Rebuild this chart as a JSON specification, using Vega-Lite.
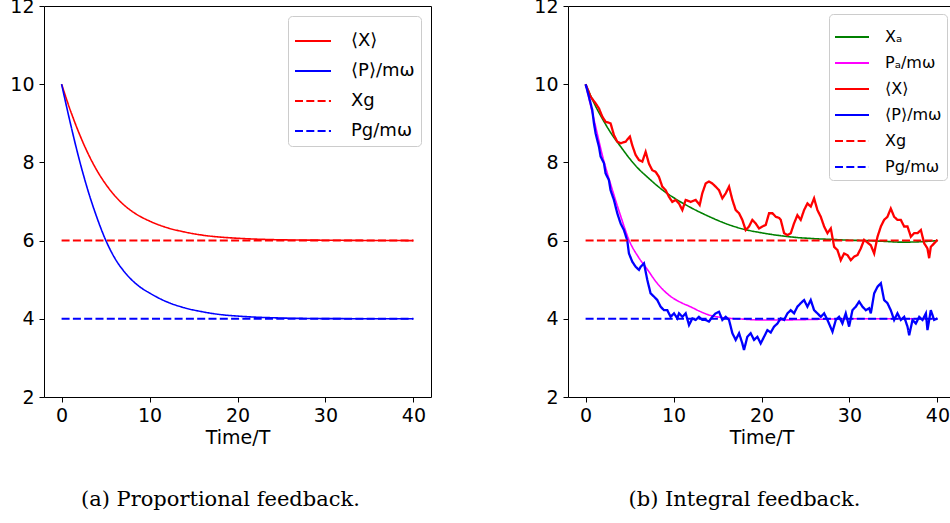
{
  "$schema": "https://vega.github.io/schema/vega-lite/v6.json",
  "background": "white",
  "padding": {"left": 9, "top": -4, "right": -4, "bottom": 0},
  "spacing": 137,
  "bounds": "flush",
  "config": {
    "view": {"stroke": "#000", "strokeWidth": 1},
    "axis": {"grid": false, "domain": false, "tickColor": "#000", "tickSize": 5, "tickWidth": 1, "labelFont": "DejaVu Sans", "labelFontSize": 19, "labelColor": "#000", "titleFont": "DejaVu Sans", "titleFontSize": 19, "titleFontWeight": "normal", "titleColor": "#000"},
    "axisY": {"labelPadding": 5},
    "axisX": {"labelPadding": 4, "titlePadding": 3},
    "legend": {"title": null, "orient": "top-right", "symbolType": "stroke", "labelFont": "DejaVu Sans", "labelColor": "#000", "strokeColor": "#cccccc", "fillColor": "white", "cornerRadius": 4},
    "title": {"font": "DejaVu Serif", "fontSize": 21, "fontWeight": "normal", "color": "#000", "orient": "bottom", "anchor": "middle", "frame": "bounds", "offset": 42}
  },
  "datasets": {
    "a": [
      {"s": "⟨X⟩", "t": 0, "v": 10}, {"s": "⟨X⟩", "t": 1, "v": 9.33}, {"s": "⟨X⟩", "t": 2, "v": 8.74}, {"s": "⟨X⟩", "t": 3, "v": 8.23}, {"s": "⟨X⟩", "t": 4, "v": 7.8}, {"s": "⟨X⟩", "t": 5, "v": 7.45}, {"s": "⟨X⟩", "t": 6, "v": 7.16}, {"s": "⟨X⟩", "t": 7, "v": 6.93}, {"s": "⟨X⟩", "t": 8, "v": 6.75}, {"s": "⟨X⟩", "t": 9, "v": 6.61}, {"s": "⟨X⟩", "t": 10, "v": 6.5}, {"s": "⟨X⟩", "t": 12, "v": 6.33}, {"s": "⟨X⟩", "t": 14, "v": 6.22}, {"s": "⟨X⟩", "t": 16, "v": 6.14}, {"s": "⟨X⟩", "t": 18, "v": 6.09}, {"s": "⟨X⟩", "t": 20, "v": 6.06}, {"s": "⟨X⟩", "t": 25, "v": 6.02}, {"s": "⟨X⟩", "t": 30, "v": 6.01}, {"s": "⟨X⟩", "t": 40, "v": 6.0},
      {"s": "⟨P⟩/mω", "t": 0, "v": 10}, {"s": "⟨P⟩/mω", "t": 1, "v": 9.0}, {"s": "⟨P⟩/mω", "t": 2, "v": 8.08}, {"s": "⟨P⟩/mω", "t": 3, "v": 7.28}, {"s": "⟨P⟩/mω", "t": 4, "v": 6.6}, {"s": "⟨P⟩/mω", "t": 5, "v": 6.02}, {"s": "⟨P⟩/mω", "t": 6, "v": 5.57}, {"s": "⟨P⟩/mω", "t": 7, "v": 5.24}, {"s": "⟨P⟩/mω", "t": 8, "v": 4.99}, {"s": "⟨P⟩/mω", "t": 9, "v": 4.8}, {"s": "⟨P⟩/mω", "t": 10, "v": 4.66}, {"s": "⟨P⟩/mω", "t": 12, "v": 4.43}, {"s": "⟨P⟩/mω", "t": 14, "v": 4.28}, {"s": "⟨P⟩/mω", "t": 16, "v": 4.18}, {"s": "⟨P⟩/mω", "t": 18, "v": 4.11}, {"s": "⟨P⟩/mω", "t": 20, "v": 4.07}, {"s": "⟨P⟩/mω", "t": 25, "v": 4.02}, {"s": "⟨P⟩/mω", "t": 30, "v": 4.005}, {"s": "⟨P⟩/mω", "t": 40, "v": 4.0},
      {"s": "Xg", "t": 0, "v": 6}, {"s": "Xg", "t": 40, "v": 6},
      {"s": "Pg/mω", "t": 0, "v": 4}, {"s": "Pg/mω", "t": 40, "v": 4}
    ],
    "b": [
      {"s": "Xₐ", "t": 0, "v": 10}, {"s": "Xₐ", "t": 1, "v": 9.5}, {"s": "Xₐ", "t": 2, "v": 9.08}, {"s": "Xₐ", "t": 3, "v": 8.71}, {"s": "Xₐ", "t": 4, "v": 8.4}, {"s": "Xₐ", "t": 5, "v": 8.1}, {"s": "Xₐ", "t": 6, "v": 7.84}, {"s": "Xₐ", "t": 7, "v": 7.63}, {"s": "Xₐ", "t": 8, "v": 7.43}, {"s": "Xₐ", "t": 9, "v": 7.25}, {"s": "Xₐ", "t": 10, "v": 7.1}, {"s": "Xₐ", "t": 12, "v": 6.84}, {"s": "Xₐ", "t": 14, "v": 6.62}, {"s": "Xₐ", "t": 16, "v": 6.43}, {"s": "Xₐ", "t": 18, "v": 6.29}, {"s": "Xₐ", "t": 20, "v": 6.2}, {"s": "Xₐ", "t": 22, "v": 6.13}, {"s": "Xₐ", "t": 24, "v": 6.08}, {"s": "Xₐ", "t": 26, "v": 6.05}, {"s": "Xₐ", "t": 28, "v": 6.03}, {"s": "Xₐ", "t": 30, "v": 6.01}, {"s": "Xₐ", "t": 32, "v": 6.0}, {"s": "Xₐ", "t": 34, "v": 5.98}, {"s": "Xₐ", "t": 36, "v": 5.96}, {"s": "Xₐ", "t": 38, "v": 5.97}, {"s": "Xₐ", "t": 40, "v": 6.0},
      {"s": "Pₐ/mω", "t": 0, "v": 10}, {"s": "Pₐ/mω", "t": 1, "v": 9.05}, {"s": "Pₐ/mω", "t": 2, "v": 8.1}, {"s": "Pₐ/mω", "t": 3, "v": 7.33}, {"s": "Pₐ/mω", "t": 4, "v": 6.62}, {"s": "Pₐ/mω", "t": 5, "v": 5.98}, {"s": "Pₐ/mω", "t": 6, "v": 5.58}, {"s": "Pₐ/mω", "t": 7, "v": 5.27}, {"s": "Pₐ/mω", "t": 8, "v": 4.95}, {"s": "Pₐ/mω", "t": 9, "v": 4.7}, {"s": "Pₐ/mω", "t": 10, "v": 4.52}, {"s": "Pₐ/mω", "t": 11, "v": 4.4}, {"s": "Pₐ/mω", "t": 12, "v": 4.3}, {"s": "Pₐ/mω", "t": 13, "v": 4.19}, {"s": "Pₐ/mω", "t": 14, "v": 4.1}, {"s": "Pₐ/mω", "t": 15, "v": 4.05}, {"s": "Pₐ/mω", "t": 16, "v": 4.02}, {"s": "Pₐ/mω", "t": 18, "v": 3.99}, {"s": "Pₐ/mω", "t": 20, "v": 3.97}, {"s": "Pₐ/mω", "t": 22, "v": 3.97}, {"s": "Pₐ/mω", "t": 25, "v": 3.98}, {"s": "Pₐ/mω", "t": 30, "v": 4.0}, {"s": "Pₐ/mω", "t": 40, "v": 4.0},
      {"s": "⟨X⟩", "t": 0, "v": 10}, {"s": "⟨X⟩", "t": 0.57, "v": 9.68}, {"s": "⟨X⟩", "t": 1.14, "v": 9.51}, {"s": "⟨X⟩", "t": 1.52, "v": 9.38}, {"s": "⟨X⟩", "t": 1.9, "v": 9.17}, {"s": "⟨X⟩", "t": 2.27, "v": 9.04}, {"s": "⟨X⟩", "t": 2.84, "v": 9.0}, {"s": "⟨X⟩", "t": 3.22, "v": 8.7}, {"s": "⟨X⟩", "t": 3.6, "v": 8.53}, {"s": "⟨X⟩", "t": 3.98, "v": 8.49}, {"s": "⟨X⟩", "t": 4.55, "v": 8.53}, {"s": "⟨X⟩", "t": 5.04, "v": 8.66}, {"s": "⟨X⟩", "t": 5.3, "v": 8.44}, {"s": "⟨X⟩", "t": 5.69, "v": 8.19}, {"s": "⟨X⟩", "t": 6.07, "v": 8.06}, {"s": "⟨X⟩", "t": 6.45, "v": 8.02}, {"s": "⟨X⟩", "t": 6.83, "v": 8.27}, {"s": "⟨X⟩", "t": 7.2, "v": 7.97}, {"s": "⟨X⟩", "t": 7.58, "v": 7.8}, {"s": "⟨X⟩", "t": 7.96, "v": 7.76}, {"s": "⟨X⟩", "t": 8.34, "v": 7.63}, {"s": "⟨X⟩", "t": 8.72, "v": 7.38}, {"s": "⟨X⟩", "t": 9.1, "v": 7.29}, {"s": "⟨X⟩", "t": 9.48, "v": 7.12}, {"s": "⟨X⟩", "t": 9.86, "v": 6.99}, {"s": "⟨X⟩", "t": 10.24, "v": 7.04}, {"s": "⟨X⟩", "t": 10.62, "v": 6.95}, {"s": "⟨X⟩", "t": 11.0, "v": 6.78}, {"s": "⟨X⟩", "t": 11.38, "v": 7.04}, {"s": "⟨X⟩", "t": 11.95, "v": 6.99}, {"s": "⟨X⟩", "t": 12.52, "v": 7.04}, {"s": "⟨X⟩", "t": 12.97, "v": 6.91}, {"s": "⟨X⟩", "t": 13.27, "v": 7.21}, {"s": "⟨X⟩", "t": 13.65, "v": 7.46}, {"s": "⟨X⟩", "t": 14.03, "v": 7.51}, {"s": "⟨X⟩", "t": 14.41, "v": 7.46}, {"s": "⟨X⟩", "t": 14.79, "v": 7.38}, {"s": "⟨X⟩", "t": 15.17, "v": 7.29}, {"s": "⟨X⟩", "t": 15.55, "v": 7.08}, {"s": "⟨X⟩", "t": 15.93, "v": 7.21}, {"s": "⟨X⟩", "t": 16.31, "v": 7.38}, {"s": "⟨X⟩", "t": 16.69, "v": 7.04}, {"s": "⟨X⟩", "t": 17.07, "v": 6.78}, {"s": "⟨X⟩", "t": 17.45, "v": 6.7}, {"s": "⟨X⟩", "t": 17.82, "v": 6.53}, {"s": "⟨X⟩", "t": 18.2, "v": 6.27}, {"s": "⟨X⟩", "t": 18.58, "v": 6.36}, {"s": "⟨X⟩", "t": 18.96, "v": 6.53}, {"s": "⟨X⟩", "t": 19.34, "v": 6.44}, {"s": "⟨X⟩", "t": 19.72, "v": 6.31}, {"s": "⟨X⟩", "t": 20.1, "v": 6.36}, {"s": "⟨X⟩", "t": 20.48, "v": 6.4}, {"s": "⟨X⟩", "t": 20.86, "v": 6.7}, {"s": "⟨X⟩", "t": 21.24, "v": 6.7}, {"s": "⟨X⟩", "t": 21.62, "v": 6.61}, {"s": "⟨X⟩", "t": 22.0, "v": 6.58}, {"s": "⟨X⟩", "t": 22.19, "v": 6.53}, {"s": "⟨X⟩", "t": 22.57, "v": 6.19}, {"s": "⟨X⟩", "t": 22.95, "v": 6.14}, {"s": "⟨X⟩", "t": 23.33, "v": 6.19}, {"s": "⟨X⟩", "t": 23.7, "v": 6.44}, {"s": "⟨X⟩", "t": 24.08, "v": 6.65}, {"s": "⟨X⟩", "t": 24.46, "v": 6.53}, {"s": "⟨X⟩", "t": 24.84, "v": 6.78}, {"s": "⟨X⟩", "t": 25.22, "v": 6.95}, {"s": "⟨X⟩", "t": 25.6, "v": 6.87}, {"s": "⟨X⟩", "t": 25.98, "v": 7.08}, {"s": "⟨X⟩", "t": 26.36, "v": 6.78}, {"s": "⟨X⟩", "t": 26.74, "v": 6.61}, {"s": "⟨X⟩", "t": 27.12, "v": 6.36}, {"s": "⟨X⟩", "t": 27.5, "v": 6.19}, {"s": "⟨X⟩", "t": 27.88, "v": 6.31}, {"s": "⟨X⟩", "t": 28.26, "v": 5.84}, {"s": "⟨X⟩", "t": 28.63, "v": 5.76}, {"s": "⟨X⟩", "t": 29.01, "v": 5.5}, {"s": "⟨X⟩", "t": 29.39, "v": 5.67}, {"s": "⟨X⟩", "t": 29.77, "v": 5.63}, {"s": "⟨X⟩", "t": 30.15, "v": 5.5}, {"s": "⟨X⟩", "t": 30.53, "v": 5.59}, {"s": "⟨X⟩", "t": 30.91, "v": 5.63}, {"s": "⟨X⟩", "t": 31.29, "v": 5.8}, {"s": "⟨X⟩", "t": 31.67, "v": 6.02}, {"s": "⟨X⟩", "t": 32.05, "v": 5.95}, {"s": "⟨X⟩", "t": 32.43, "v": 5.88}, {"s": "⟨X⟩", "t": 32.81, "v": 5.67}, {"s": "⟨X⟩", "t": 33.19, "v": 6.1}, {"s": "⟨X⟩", "t": 33.57, "v": 6.36}, {"s": "⟨X⟩", "t": 33.94, "v": 6.53}, {"s": "⟨X⟩", "t": 34.32, "v": 6.61}, {"s": "⟨X⟩", "t": 34.7, "v": 6.82}, {"s": "⟨X⟩", "t": 35.08, "v": 6.61}, {"s": "⟨X⟩", "t": 35.46, "v": 6.53}, {"s": "⟨X⟩", "t": 35.84, "v": 6.53}, {"s": "⟨X⟩", "t": 36.22, "v": 6.36}, {"s": "⟨X⟩", "t": 36.6, "v": 6.36}, {"s": "⟨X⟩", "t": 36.98, "v": 6.1}, {"s": "⟨X⟩", "t": 37.36, "v": 6.19}, {"s": "⟨X⟩", "t": 37.74, "v": 6.19}, {"s": "⟨X⟩", "t": 38.12, "v": 6.27}, {"s": "⟨X⟩", "t": 38.5, "v": 5.93}, {"s": "⟨X⟩", "t": 38.87, "v": 5.8}, {"s": "⟨X⟩", "t": 39.06, "v": 5.55}, {"s": "⟨X⟩", "t": 39.25, "v": 5.84}, {"s": "⟨X⟩", "t": 39.63, "v": 5.93}, {"s": "⟨X⟩", "t": 40.0, "v": 6.02},
      {"s": "⟨P⟩/mω", "t": 0, "v": 10}, {"s": "⟨P⟩/mω", "t": 0.38, "v": 9.68}, {"s": "⟨P⟩/mω", "t": 0.76, "v": 9.34}, {"s": "⟨P⟩/mω", "t": 0.95, "v": 9.0}, {"s": "⟨P⟩/mω", "t": 1.14, "v": 8.74}, {"s": "⟨P⟩/mω", "t": 1.52, "v": 8.4}, {"s": "⟨P⟩/mω", "t": 1.71, "v": 8.15}, {"s": "⟨P⟩/mω", "t": 2.09, "v": 7.98}, {"s": "⟨P⟩/mω", "t": 2.27, "v": 7.72}, {"s": "⟨P⟩/mω", "t": 2.65, "v": 7.55}, {"s": "⟨P⟩/mω", "t": 2.84, "v": 7.29}, {"s": "⟨P⟩/mω", "t": 3.22, "v": 7.04}, {"s": "⟨P⟩/mω", "t": 3.6, "v": 6.7}, {"s": "⟨P⟩/mω", "t": 3.98, "v": 6.44}, {"s": "⟨P⟩/mω", "t": 4.36, "v": 6.27}, {"s": "⟨P⟩/mω", "t": 4.74, "v": 6.0}, {"s": "⟨P⟩/mω", "t": 4.93, "v": 5.67}, {"s": "⟨P⟩/mω", "t": 5.31, "v": 5.46}, {"s": "⟨P⟩/mω", "t": 5.69, "v": 5.33}, {"s": "⟨P⟩/mω", "t": 6.07, "v": 5.25}, {"s": "⟨P⟩/mω", "t": 6.26, "v": 5.33}, {"s": "⟨P⟩/mω", "t": 6.64, "v": 5.42}, {"s": "⟨P⟩/mω", "t": 7.02, "v": 4.99}, {"s": "⟨P⟩/mω", "t": 7.39, "v": 4.65}, {"s": "⟨P⟩/mω", "t": 7.77, "v": 4.57}, {"s": "⟨P⟩/mω", "t": 8.15, "v": 4.48}, {"s": "⟨P⟩/mω", "t": 8.53, "v": 4.31}, {"s": "⟨P⟩/mω", "t": 8.91, "v": 4.22}, {"s": "⟨P⟩/mω", "t": 9.29, "v": 4.22}, {"s": "⟨P⟩/mω", "t": 9.67, "v": 4.05}, {"s": "⟨P⟩/mω", "t": 10.05, "v": 4.14}, {"s": "⟨P⟩/mω", "t": 10.43, "v": 4.01}, {"s": "⟨P⟩/mω", "t": 10.62, "v": 4.14}, {"s": "⟨P⟩/mω", "t": 11.0, "v": 4.05}, {"s": "⟨P⟩/mω", "t": 11.38, "v": 4.14}, {"s": "⟨P⟩/mω", "t": 11.76, "v": 3.84}, {"s": "⟨P⟩/mω", "t": 12.14, "v": 4.01}, {"s": "⟨P⟩/mω", "t": 12.52, "v": 3.97}, {"s": "⟨P⟩/mω", "t": 12.89, "v": 4.05}, {"s": "⟨P⟩/mω", "t": 13.27, "v": 3.97}, {"s": "⟨P⟩/mω", "t": 13.65, "v": 3.97}, {"s": "⟨P⟩/mω", "t": 14.03, "v": 3.93}, {"s": "⟨P⟩/mω", "t": 14.41, "v": 4.05}, {"s": "⟨P⟩/mω", "t": 14.79, "v": 4.14}, {"s": "⟨P⟩/mω", "t": 15.17, "v": 4.18}, {"s": "⟨P⟩/mω", "t": 15.55, "v": 3.97}, {"s": "⟨P⟩/mω", "t": 15.93, "v": 4.05}, {"s": "⟨P⟩/mω", "t": 16.31, "v": 3.97}, {"s": "⟨P⟩/mω", "t": 16.69, "v": 3.63}, {"s": "⟨P⟩/mω", "t": 17.07, "v": 3.46}, {"s": "⟨P⟩/mω", "t": 17.45, "v": 3.63}, {"s": "⟨P⟩/mω", "t": 17.82, "v": 3.37}, {"s": "⟨P⟩/mω", "t": 18.01, "v": 3.2}, {"s": "⟨P⟩/mω", "t": 18.39, "v": 3.54}, {"s": "⟨P⟩/mω", "t": 18.77, "v": 3.63}, {"s": "⟨P⟩/mω", "t": 19.15, "v": 3.46}, {"s": "⟨P⟩/mω", "t": 19.53, "v": 3.54}, {"s": "⟨P⟩/mω", "t": 19.91, "v": 3.37}, {"s": "⟨P⟩/mω", "t": 20.29, "v": 3.54}, {"s": "⟨P⟩/mω", "t": 20.67, "v": 3.71}, {"s": "⟨P⟩/mω", "t": 21.05, "v": 3.65}, {"s": "⟨P⟩/mω", "t": 21.43, "v": 3.8}, {"s": "⟨P⟩/mω", "t": 21.81, "v": 3.88}, {"s": "⟨P⟩/mω", "t": 22.19, "v": 4.01}, {"s": "⟨P⟩/mω", "t": 22.57, "v": 3.97}, {"s": "⟨P⟩/mω", "t": 22.95, "v": 4.14}, {"s": "⟨P⟩/mω", "t": 23.33, "v": 4.22}, {"s": "⟨P⟩/mω", "t": 23.7, "v": 4.14}, {"s": "⟨P⟩/mω", "t": 24.08, "v": 4.31}, {"s": "⟨P⟩/mω", "t": 24.46, "v": 4.4}, {"s": "⟨P⟩/mω", "t": 24.84, "v": 4.48}, {"s": "⟨P⟩/mω", "t": 25.22, "v": 4.31}, {"s": "⟨P⟩/mω", "t": 25.6, "v": 4.48}, {"s": "⟨P⟩/mω", "t": 25.98, "v": 4.22}, {"s": "⟨P⟩/mω", "t": 26.36, "v": 4.14}, {"s": "⟨P⟩/mω", "t": 26.74, "v": 4.05}, {"s": "⟨P⟩/mω", "t": 27.12, "v": 4.14}, {"s": "⟨P⟩/mω", "t": 27.5, "v": 3.97}, {"s": "⟨P⟩/mω", "t": 28.07, "v": 3.67}, {"s": "⟨P⟩/mω", "t": 28.45, "v": 3.97}, {"s": "⟨P⟩/mω", "t": 28.82, "v": 4.05}, {"s": "⟨P⟩/mω", "t": 29.2, "v": 3.88}, {"s": "⟨P⟩/mω", "t": 29.58, "v": 4.14}, {"s": "⟨P⟩/mω", "t": 29.96, "v": 3.8}, {"s": "⟨P⟩/mω", "t": 30.34, "v": 4.22}, {"s": "⟨P⟩/mω", "t": 30.72, "v": 4.31}, {"s": "⟨P⟩/mω", "t": 31.1, "v": 4.44}, {"s": "⟨P⟩/mω", "t": 31.48, "v": 4.31}, {"s": "⟨P⟩/mω", "t": 31.86, "v": 4.22}, {"s": "⟨P⟩/mω", "t": 32.24, "v": 4.27}, {"s": "⟨P⟩/mω", "t": 32.43, "v": 4.14}, {"s": "⟨P⟩/mω", "t": 32.81, "v": 4.65}, {"s": "⟨P⟩/mω", "t": 33.19, "v": 4.82}, {"s": "⟨P⟩/mω", "t": 33.57, "v": 4.91}, {"s": "⟨P⟩/mω", "t": 33.94, "v": 4.48}, {"s": "⟨P⟩/mω", "t": 34.32, "v": 4.4}, {"s": "⟨P⟩/mω", "t": 34.7, "v": 4.22}, {"s": "⟨P⟩/mω", "t": 35.08, "v": 3.97}, {"s": "⟨P⟩/mω", "t": 35.46, "v": 4.14}, {"s": "⟨P⟩/mω", "t": 35.84, "v": 3.97}, {"s": "⟨P⟩/mω", "t": 36.22, "v": 4.05}, {"s": "⟨P⟩/mω", "t": 36.6, "v": 3.8}, {"s": "⟨P⟩/mω", "t": 36.79, "v": 3.58}, {"s": "⟨P⟩/mω", "t": 37.17, "v": 3.97}, {"s": "⟨P⟩/mω", "t": 37.55, "v": 3.88}, {"s": "⟨P⟩/mω", "t": 37.93, "v": 4.05}, {"s": "⟨P⟩/mω", "t": 38.31, "v": 3.97}, {"s": "⟨P⟩/mω", "t": 38.69, "v": 4.14}, {"s": "⟨P⟩/mω", "t": 38.87, "v": 3.71}, {"s": "⟨P⟩/mω", "t": 39.25, "v": 4.22}, {"s": "⟨P⟩/mω", "t": 39.63, "v": 3.97}, {"s": "⟨P⟩/mω", "t": 40.0, "v": 4.01},
      {"s": "Xg", "t": 0, "v": 6}, {"s": "Xg", "t": 40, "v": 6},
      {"s": "Pg/mω", "t": 0, "v": 4}, {"s": "Pg/mω", "t": 40, "v": 4}
    ]
  },
  "hconcat": [
    {
      "width": 387,
      "height": 391,
      "title": {"text": "(a) Proportional feedback."},
      "data": {"name": "a"},
      "encoding": {
        "x": {"field": "t", "type": "quantitative", "scale": {"domain": [-2, 42], "nice": false, "zero": false}, "axis": {"values": [0, 10, 20, 30, 40], "title": "Time/T"}},
        "y": {"field": "v", "type": "quantitative", "scale": {"domain": [2, 12], "nice": false, "zero": false}, "axis": {"values": [2, 4, 6, 8, 10, 12], "title": null}},
        "color": {"field": "s", "type": "nominal", "scale": {"domain": ["⟨X⟩", "⟨P⟩/mω", "Xg", "Pg/mω"], "range": ["#ff0000", "#0000ff", "#ff0000", "#0000ff"]},
          "legend": {"offset": 10, "labelFontSize": 18, "symbolSize": 1296, "symbolStrokeWidth": 2, "padding": 6, "rowPadding": 2, "labelOffset": 19}},
        "strokeDash": {"field": "s", "type": "nominal", "scale": {"domain": ["⟨X⟩", "⟨P⟩/mω", "Xg", "Pg/mω"], "range": [[1, 0], [1, 0], [8, 3.3], [8, 3.3]]},
          "legend": {"offset": 10, "labelFontSize": 18, "symbolSize": 1296, "symbolStrokeWidth": 2, "padding": 6, "rowPadding": 2, "labelOffset": 19}}
      },
      "layer": [
        {"transform": [{"filter": {"field": "s", "oneOf": ["⟨X⟩", "⟨P⟩/mω"]}}], "mark": {"type": "line", "interpolate": "monotone", "strokeWidth": 1.6}},
        {"transform": [{"filter": {"field": "s", "oneOf": ["Xg", "Pg/mω"]}}], "mark": {"type": "line", "strokeWidth": 2}}
      ]
    },
    {
      "width": 387,
      "height": 391,
      "title": {"text": "(b) Integral feedback."},
      "data": {"name": "b"},
      "encoding": {
        "x": {"field": "t", "type": "quantitative", "scale": {"domain": [-2, 42], "nice": false, "zero": false}, "axis": {"values": [0, 10, 20, 30, 40], "title": "Time/T"}},
        "y": {"field": "v", "type": "quantitative", "scale": {"domain": [2, 12], "nice": false, "zero": false}, "axis": {"values": [2, 4, 6, 8, 10, 12], "title": null}},
        "color": {"field": "s", "type": "nominal", "scale": {"domain": ["Xₐ", "Pₐ/mω", "⟨X⟩", "⟨P⟩/mω", "Xg", "Pg/mω"], "range": ["#008000", "#ff00ff", "#ff0000", "#0000ff", "#ff0000", "#0000ff"]},
          "legend": {"offset": 8, "labelFontSize": 16, "symbolSize": 1156, "symbolStrokeWidth": 2, "padding": 5, "rowPadding": -1, "labelOffset": 15}},
        "strokeDash": {"field": "s", "type": "nominal", "scale": {"domain": ["Xₐ", "Pₐ/mω", "⟨X⟩", "⟨P⟩/mω", "Xg", "Pg/mω"], "range": [[1, 0], [1, 0], [1, 0], [1, 0], [8, 3.3], [8, 3.3]]},
          "legend": {"offset": 8, "labelFontSize": 16, "symbolSize": 1156, "symbolStrokeWidth": 2, "padding": 5, "rowPadding": -1, "labelOffset": 15}}
      },
      "layer": [
        {"transform": [{"filter": {"field": "s", "oneOf": ["Xₐ", "Pₐ/mω"]}}], "mark": {"type": "line", "interpolate": "monotone", "strokeWidth": 1.6}},
        {"transform": [{"filter": {"field": "s", "oneOf": ["⟨X⟩", "⟨P⟩/mω"]}}], "mark": {"type": "line", "strokeWidth": 2.3}},
        {"transform": [{"filter": {"field": "s", "oneOf": ["Xg", "Pg/mω"]}}], "mark": {"type": "line", "strokeWidth": 2}}
      ]
    }
  ],
  "resolve": {"scale": {"color": "independent", "strokeDash": "independent"}, "legend": {"color": "independent", "strokeDash": "independent"}}
}
